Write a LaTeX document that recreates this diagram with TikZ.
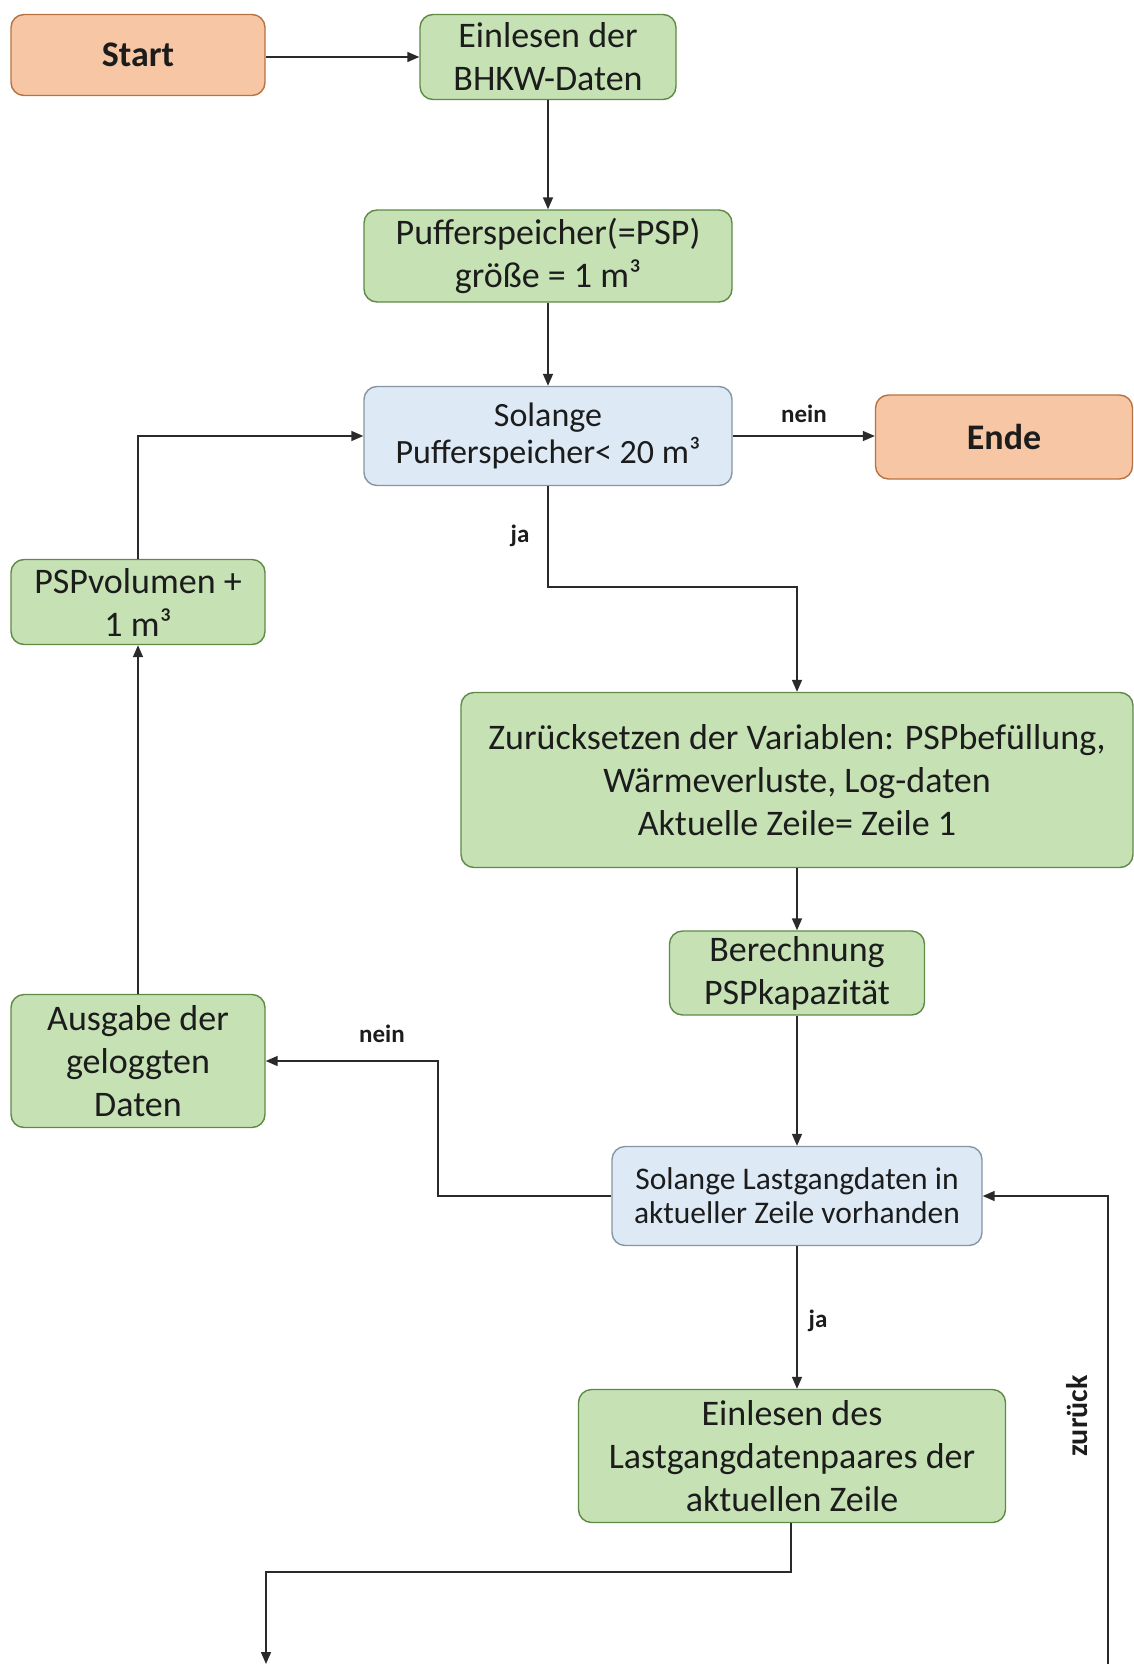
\documentclass[tikz,border=0pt]{standalone}
\usepackage{fontspec}
\setmainfont{Carlito}
\usetikzlibrary{arrows.meta}

\definecolor{termfill}{HTML}{F7C6A4}
\definecolor{termline}{HTML}{B8723F}
\definecolor{procfill}{HTML}{C6E2B5}
\definecolor{procline}{HTML}{5E8A45}
\definecolor{loopfill}{HTML}{DDEAF6}
\definecolor{loopline}{HTML}{8496A4}
\definecolor{ink}{HTML}{1C1C1C}
\definecolor{wire}{HTML}{2A2A2A}

\tikzset{
  box/.style={rectangle, rounded corners=13pt, line width=1.4pt, align=center,
    inner sep=0pt, text=ink, font=\fontsize{36}{43}\selectfont},
  term/.style={box, fill=termfill, draw=termline, font=\fontsize{36}{43}\selectfont\bfseries},
  proc/.style={box, fill=procfill, draw=procline},
  loopbox/.style={box, fill=loopfill, draw=loopline},
  flow/.style={draw=wire, line width=1.6pt,
    -{Triangle[length=12pt,width=10pt]}},
  tag/.style={font=\fontsize{25}{28}\selectfont\bfseries, text=ink}
}

\begin{document}
\begin{tikzpicture}[x=1pt, y=-1pt]
  \useasboundingbox (0,0) rectangle (1134,1664);

  % process and decision boxes
  \node[term, minimum width=254pt, minimum height=81pt] (start) at (138,55) {Start};
  \node[proc, minimum width=256pt, minimum height=85pt] (bhkw) at (548,57) {Einlesen der\\BHKW-Daten};
  \node[proc, minimum width=368pt, minimum height=92pt] (psp) at (548,256) {Pufferspeicher(=PSP)\\größe = 1 m³};
  \node[loopbox, minimum width=368pt, minimum height=99pt,
        font=\fontsize{34}{37}\selectfont] (sol1) at (548,436) {Solange\\Pufferspeicher< 20 m³};
  \node[term, minimum width=257pt, minimum height=84pt] (ende) at (1004,437) {Ende};
  \node[proc, minimum width=254pt, minimum height=85pt] (pspvol) at (138,602) {PSPvolumen +\\1 m³};
  \node[proc, minimum width=672pt, minimum height=175pt] (reset) at (797,780)
    {Zurücksetzen der Variablen: PSPbefüllung,\\Wärmeverluste, Log-daten\\Aktuelle Zeile= Zeile 1};
  \node[proc, minimum width=255pt, minimum height=84pt] (calc) at (797,973) {Berechnung\\PSPkapazität};
  \node[proc, minimum width=254pt, minimum height=133pt] (out) at (138,1061) {Ausgabe der\\geloggten\\Daten};
  \node[loopbox, minimum width=370pt, minimum height=99pt,
        font=\fontsize{31.5}{34}\selectfont] (last) at (797,1196) {Solange Lastgangdaten in\\aktueller Zeile vorhanden};
  \node[proc, minimum width=427pt, minimum height=133pt] (read) at (792,1456)
    {Einlesen des\\Lastgangdatenpaares der\\aktuellen Zeile};

  % bend points and open ends
  \coordinate (jabend) at (0,587);
  \coordinate (neinx) at (438,0);
  \coordinate (downx) at (266,1572);
  \coordinate (downend) at (266,1664);
  \coordinate (backstart) at (1108,1664);

  % connectors
  \draw[flow] (start.east |- bhkw.west) -- (bhkw.west);
  \draw[flow] (bhkw.south) -- (psp.north);
  \draw[flow] (psp.south) -- (sol1.north);
  \draw[flow] (sol1.east) -- (sol1.east -| ende.west);
  \draw[flow] (sol1.south) -- (sol1.south |- jabend) -| (reset.north);
  \draw[flow] (pspvol.north) |- (sol1.west);
  \draw[flow] (out.north) -- (pspvol.south);
  \draw[flow] (reset.south) -- (calc.north);
  \draw[flow] (calc.south) -- (last.north);
  \draw[flow] (last.west) -- (neinx |- last.west) |- (out.east);
  \draw[flow] (last.south) -- (last.south |- read.north);
  \draw[flow] (read.south -| 791,0) -- (791,1572) -- (downx) -- (downend);
  \draw[flow] (backstart) |- (last.east);

  % branch labels
  \node[tag] (neinA) at (804,414) {nein};
  \node[tag] (jaA) at (520,536) {ja};
  \node[tag] (neinB) at (382,1034) {nein};
  \node[tag] (jaB) at (818,1321) {ja};
  \node[tag, rotate=90, font=\fontsize{30}{32}\selectfont\bfseries] (back) at (1077,1416) {zurück};
\end{tikzpicture}
\end{document}
